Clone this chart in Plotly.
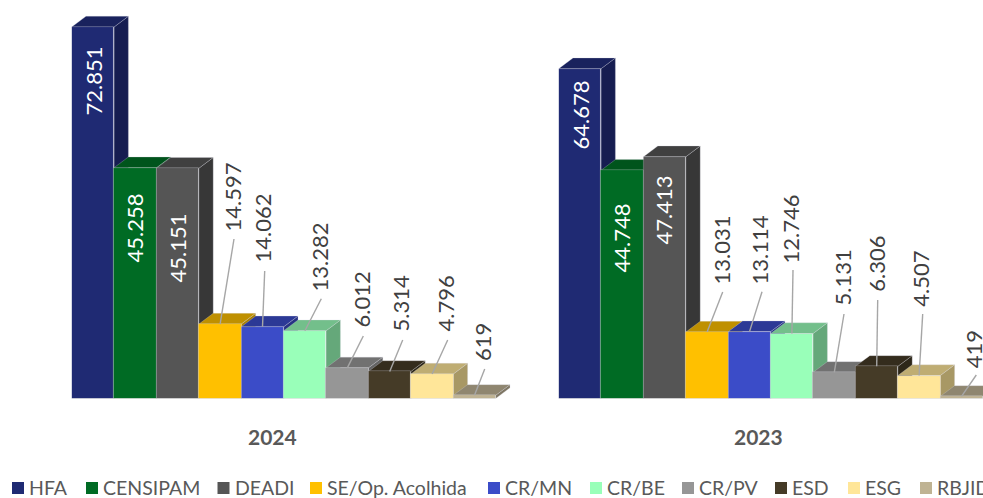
import plotly.graph_objects as go

categories = ["HFA", "CENSIPAM", "DEADI", "SE/Op. Acolhida", "CR/MN", "CR/BE", "CR/PV", "ESD", "ESG", "RBJID"]
values_2024 = [72851, 45258, 45151, 14597, 14062, 13282, 6012, 5314, 4796, 619]
values_2023 = [64678, 44748, 47413, 13031, 13114, 12746, 5131, 6306, 4507, 419]
labels_2024 = ["72.851", "45.258", "45.151", "14.597", "14.062", "13.282", "6.012", "5.314", "4.796", "619"]
labels_2023 = ["64.678", "44.748", "47.413", "13.031", "13.114", "12.746", "5.131", "6.306", "4.507", "419"]

front_colors = ["#1F2A73", "#006B24", "#555555", "#FFC000", "#3B4CC8", "#99FFB9", "#969696", "#453B27", "#FFE699", "#BFB393"]
top_colors = ["#19225D", "#00541C", "#404040", "#BF9000", "#2C3996", "#73BF8B", "#717171", "#342C1D", "#BFAD73", "#8F8670"]
side_colors = ["#161D51", "#004A19", "#373737", "#A87F00", "#273284", "#65A87A", "#636363", "#2D2719", "#A89865", "#7E7663"]

# layout (pixels)
W, H = 983, 498
BASE_Y = 398.5
BAR_W = 42.4
PX_PER_UNIT = 0.0051
DEPTH_X = 14.3 / BAR_W
DEPTH_Y = 10.7 / PX_PER_UNIT
LEFT_1, LEFT_2 = 71.7, 558.7
RIGHT_1 = 517.0
Y_MAX = BASE_Y / PX_PER_UNIT
FONT = "Lato"
LABEL_NUDGE_X = -2.5
EDGE = "rgba(215,215,225,0.45)"

# label centre positions (pixels)
cx_2024 = [96, 137, 180, 235, 265, 322, 364, 403, 448, 485]
cy_2024 = [81, 228, 248, 197, 228, 257, 300, 304, 304, 342.5]
cx_2023 = [583, 624, 666, 724, 762, 793, 845, 878.3, 923.3, 976.7]
cy_2023 = [115, 238, 210, 250, 250, 229, 278, 264, 279, 349]
# leader starts (pixels), None when the label sits inside the bar
lead_2024 = [None, None, None, (234, 239), (264.7, 271), (321.3, 298.7), (363.3, 336), (402.7, 340), (447.7, 340), (484.7, 369)]
lead_2023 = [None, None, None, (722.7, 292), (762, 291.7), (793, 270), (844, 314), (877.7, 300), (922.7, 314), (976.3, 375)]

legend_x = [12, 86, 217.5, 310, 488, 590, 682, 775, 848, 920]

fig = go.Figure()


def add_panel(values, labels, cxs, cys, leads, left, xname, y_back, y_front):
    xa = "x" if xname == "xaxis" else "x2"
    for i, v in enumerate(values):
        fig.add_trace(go.Scatter(
            x=[i + .5, i + .5 + DEPTH_X, i + .5 + DEPTH_X, i + .5, i + .5],
            y=[0, DEPTH_Y, v + DEPTH_Y, v, 0],
            fill="toself", fillcolor=side_colors[i], mode="lines", line=dict(width=0.6, color=EDGE),
            hoverinfo="skip", showlegend=False, xaxis=xa, yaxis=y_back))
        fig.add_trace(go.Scatter(
            x=[i - .5, i - .5 + DEPTH_X, i + .5 + DEPTH_X, i + .5, i - .5],
            y=[v, v + DEPTH_Y, v + DEPTH_Y, v, v],
            fill="toself", fillcolor=top_colors[i], mode="lines", line=dict(width=0.6, color=EDGE),
            hoverinfo="skip", showlegend=False, xaxis=xa, yaxis=y_back))
    fig.add_trace(go.Bar(
        x=list(range(len(values))), y=values, width=1,
        marker=dict(color=front_colors, line=dict(width=0.6, color=EDGE)),
        customdata=categories, hovertemplate="%{customdata}: %{y}<extra></extra>",
        showlegend=False, xaxis=xa, yaxis=y_front))
    fig.add_shape(type="line", xref=xa, yref=y_front, x0=-.5, x1=9.5, y0=0, y1=0,
                  line=dict(color="#D9D9D9", width=1), layer="above")
    for i, v in enumerate(values):
        bar_cx = left + (i + .5) * BAR_W
        bar_top = BASE_Y - v * PX_PER_UNIT
        fig.add_annotation(
            x=i, y=v, xref=xa, yref=y_front, text=labels[i], showarrow=False, textangle=-90,
            xanchor="center", yanchor="middle",
            xshift=cxs[i] - bar_cx + LABEL_NUDGE_X, yshift=bar_top - cys[i],
            font=dict(family=FONT, size=22, color="#FFFFFF" if leads[i] is None else "#404040"))
        if leads[i] is not None:
            fig.add_shape(type="line", xref=xa, yref=y_front, xsizemode="pixel", ysizemode="pixel",
                          xanchor=i, yanchor=v, x0=0, y0=0,
                          x1=leads[i][0] - bar_cx, y1=bar_top - leads[i][1],
                          line=dict(color="#A6A6A6", width=1.4), layer="above")


add_panel(values_2024, labels_2024, cx_2024, cy_2024, lead_2024, LEFT_1, "xaxis", "y", "y2")
add_panel(values_2023, labels_2023, cx_2023, cy_2023, lead_2023, LEFT_2, "xaxis2", "y3", "y4")

for name, x in [("2024", 272), ("2023", 758.5)]:
    fig.add_annotation(x=x / W, y=1 - 436.5 / H, xref="paper", yref="paper", text=f"<b>{name}</b>",
                       showarrow=False, xanchor="center", yanchor="middle",
                       font=dict(family=FONT, size=21, color="#595959"))

for name, x, color in zip(categories, legend_x, front_colors):
    fig.add_shape(type="rect", xref="paper", yref="paper", x0=x / W, x1=(x + 12) / W,
                  y0=1 - 494 / H, y1=1 - 482 / H, fillcolor=color, line=dict(width=0))
    fig.add_annotation(x=(x + 15) / W, y=1 - 487.5 / H, xref="paper", yref="paper", text=name,
                       showarrow=False, xanchor="left", yanchor="middle",
                       font=dict(family=FONT, size=19.5, color="#595959"))

hidden = dict(visible=False, fixedrange=True)
y_dom = [1 - BASE_Y / H, 1]
y_rng = [0, Y_MAX]
fig.update_layout(
    width=W, height=H, margin=dict(l=0, r=0, t=0, b=0, pad=0),
    paper_bgcolor="white", plot_bgcolor="rgba(0,0,0,0)", bargap=0,
    xaxis=dict(domain=[LEFT_1 / W, RIGHT_1 / W], range=[-.5, -.5 + (RIGHT_1 - LEFT_1) / BAR_W], **hidden),
    xaxis2=dict(domain=[LEFT_2 / W, 1], range=[-.5, -.5 + (W - LEFT_2) / BAR_W], **hidden),
    yaxis=dict(domain=y_dom, range=y_rng, **hidden),
    yaxis2=dict(domain=y_dom, range=y_rng, overlaying="y", anchor="x", **hidden),
    yaxis3=dict(domain=y_dom, range=y_rng, anchor="x2", **hidden),
    yaxis4=dict(domain=y_dom, range=y_rng, overlaying="y3", anchor="x2", **hidden),
)

fig.write_html("out.html", config={"displayModeBar": False},
               post_script="document.body.style.margin='0';document.body.style.overflow='hidden';")
